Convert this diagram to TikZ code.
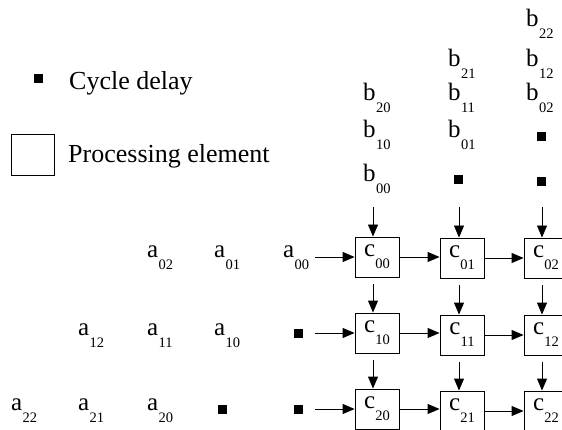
\documentclass[tikz,border=0pt]{standalone}
\usepackage{fontspec}
\setmainfont{Liberation Serif}
\usetikzlibrary{arrows.meta}
\newcommand\lbsub[2]{#1\kern0.3pt\raisebox{-12pt}{\fontsize{14.5}{15}\selectfont #2}}
\begin{document}
\begin{tikzpicture}[x=1pt,y=-1pt,
  lbl/.style={anchor=base west,inner sep=0pt,font=\fontsize{25}{28}\selectfont},
  delay/.style={fill=black,draw=none,minimum size=9pt,inner sep=0pt},
  pe/.style={draw,line width=0.9pt,minimum width=44pt,minimum height=40pt,inner sep=0pt,font=\fontsize{25}{28}\selectfont},
  legbox/.style={draw,line width=0.9pt,minimum width=43pt,minimum height=41pt,inner sep=0pt},
  flow/.style={line width=0.9pt,-{Triangle[length=12pt,width=10pt]}},
  legtext/.style={anchor=base west,inner sep=0pt,font=\fontsize{26}{30}\selectfont}]
\clip (0,0) rectangle (562,430);
% legend
\node[delay] (ld) at (38,79) {};
\node[legtext] (lt1) at (69,90) {Cycle delay};
\node[legbox] (lb) at (32.5,154.5) {};
\node[legtext] (lt2) at (68,163) {Processing element};
% processing elements
\node[pe] (c00) at (377,257) {\lbsub{c}{00}};
\node[pe] (c01) at (462,258) {\lbsub{c}{01}};
\node[pe] (c02) at (546,258) {\lbsub{c}{02}};
\node[pe] (c10) at (377,333) {\lbsub{c}{10}};
\node[pe] (c11) at (462,335) {\lbsub{c}{11}};
\node[pe] (c12) at (546,335) {\lbsub{c}{12}};
\node[pe] (c20) at (377,409) {\lbsub{c}{20}};
\node[pe] (c21) at (462,411) {\lbsub{c}{21}};
\node[pe] (c22) at (546,411) {\lbsub{c}{22}};
% b inputs
\node[lbl] (b20) at (363,101) {\lbsub{b}{20}};
\node[lbl] (b10) at (363,138) {\lbsub{b}{10}};
\node[lbl] (b00) at (363,182) {\lbsub{b}{00}};
\node[lbl] (b21) at (448,67) {\lbsub{b}{21}};
\node[lbl] (b11) at (448,101) {\lbsub{b}{11}};
\node[lbl] (b01) at (448,138) {\lbsub{b}{01}};
\node[delay] (db1) at (458,180) {};
\node[lbl] (b22) at (526,27) {\lbsub{b}{22}};
\node[lbl] (b12) at (526,67) {\lbsub{b}{12}};
\node[lbl] (b02) at (526,101) {\lbsub{b}{02}};
\node[delay] (db2a) at (541,137) {};
\node[delay] (db2b) at (541,182) {};
% a inputs
\node[lbl] (a02) at (147,258) {\lbsub{a}{02}};
\node[lbl] (a01) at (214,258) {\lbsub{a}{01}};
\node[lbl] (a00) at (283,258) {\lbsub{a}{00}};
\node[lbl] (a12) at (78,335) {\lbsub{a}{12}};
\node[lbl] (a11) at (147,335) {\lbsub{a}{11}};
\node[lbl] (a10) at (214,335) {\lbsub{a}{10}};
\node[delay] (da1) at (298,333) {};
\node[lbl] (a22) at (11,410) {\lbsub{a}{22}};
\node[lbl] (a21) at (78,410) {\lbsub{a}{21}};
\node[lbl] (a20) at (147,410) {\lbsub{a}{20}};
\node[delay] (da2a) at (222,409) {};
\node[delay] (da2b) at (298,409) {};
% free ends
\coordinate (t0) at (373,207);
\coordinate (t1) at (459,207);
\coordinate (t2) at (542,207);
\coordinate (r0) at (315,257);
\coordinate (r1) at (315,333);
\coordinate (r2) at (315,409);
% vertical flows
\draw[flow] (t0) -- (t0 |- c00.north);
\draw[flow] (t1) -- (t1 |- c01.north);
\draw[flow] (t2) -- (t2 |- c02.north);
\draw[flow] ([xshift=-4pt,yshift=-7pt]c00.south) -- ([xshift=-4pt]c10.north);
\draw[flow] ([xshift=-3pt,yshift=-7pt]c01.south) -- ([xshift=-3pt]c11.north);
\draw[flow] ([xshift=-4pt,yshift=-7pt]c02.south) -- ([xshift=-4pt]c12.north);
\draw[flow] ([xshift=-4pt,yshift=-7pt]c10.south) -- ([xshift=-4pt]c20.north);
\draw[flow] ([xshift=-3pt,yshift=-7pt]c11.south) -- ([xshift=-3pt]c21.north);
\draw[flow] ([xshift=-4pt,yshift=-7pt]c12.south) -- ([xshift=-4pt]c22.north);
% horizontal flows
\draw[flow] (r0) -- (c00.west);
\draw[flow] (r1) -- (c10.west);
\draw[flow] (r2) -- (c20.west);
\draw[flow] (c00.east) -- (c01.west |- c00.east);
\draw[flow] (c01.east) -- (c02.west |- c01.east);
\draw[flow] (c10.east) -- (c11.west |- c10.east);
\draw[flow] (c11.east) -- (c12.west |- c11.east);
\draw[flow] (c20.east) -- (c21.west |- c20.east);
\draw[flow] (c21.east) -- (c22.west |- c21.east);
\end{tikzpicture}
\end{document}
